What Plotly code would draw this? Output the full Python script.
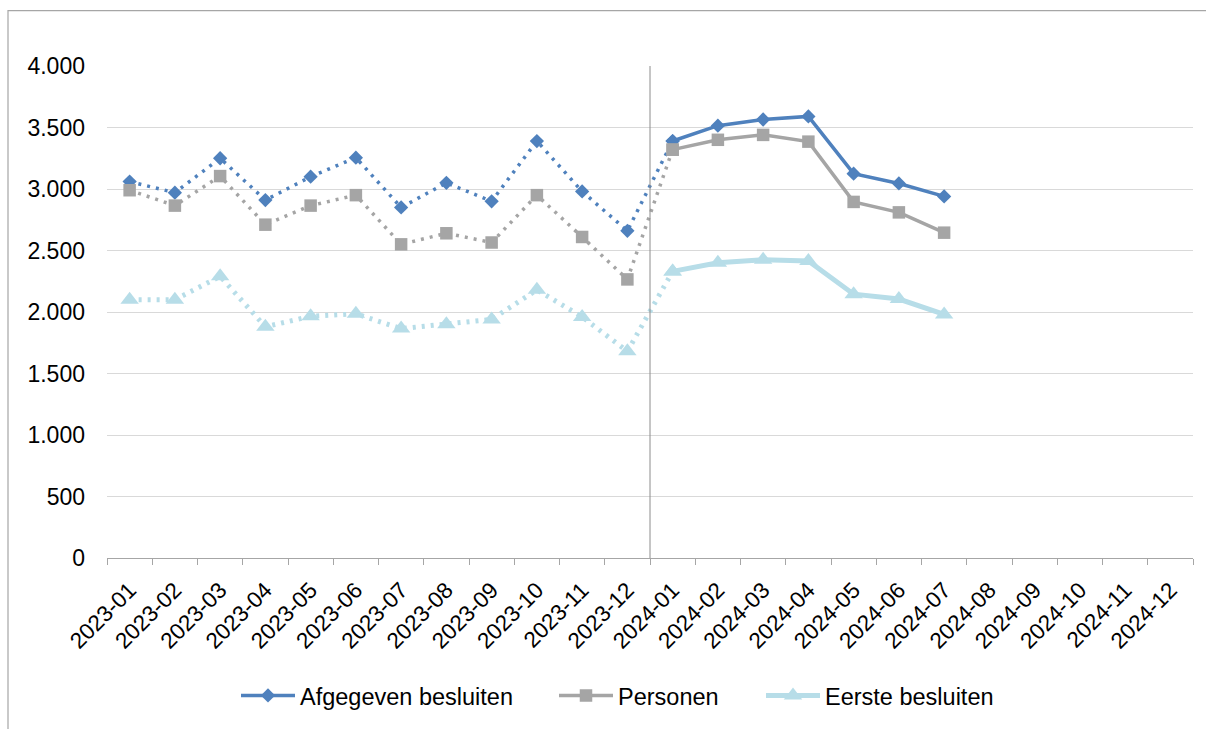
import plotly.graph_objects as go

months = [f"2023-{m:02d}" for m in range(1, 13)] + [f"2024-{m:02d}" for m in range(1, 13)]

afgegeven = [3060, 2970, 3250, 2910, 3100, 3255, 2850, 3050, 2900, 3390, 2980, 2660,
             3390, 3515, 3565, 3590, 3125, 3045, 2940]
personen = [2990, 2865, 3105, 2710, 2865, 2950, 2550, 2640, 2565, 2950, 2610, 2265,
            3320, 3400, 3440, 3385, 2895, 2810, 2645]
eerste = [2100, 2100, 2290, 1880, 1965, 1985, 1865, 1900, 1940, 2180, 1960, 1680,
          2330, 2400, 2425, 2415, 2145, 2105, 1980]

W, H = 1206, 729
ml, mr, mt, mb = 107, 13, 66, 166
pw, ph = W - ml - mr, H - mt - mb

# legend box left edges (px)
series = [
    ("Afgegeven besluiten", afgegeven, "#4f81bd", "diamond", 11, 3.5, "legend", 236),
    ("Personen", personen, "#a5a5a5", "square", 12.5, 3.5, "legend2", 554),
    ("Eerste besluiten", eerste, "#b7dde8", "triangle-up", 16, 5, "legend3", 761),
]

split = months.index("2024-01")  # first month of the solid part

fig = go.Figure()
for name, vals, color, sym, msize, lw, lg, lx in series:
    fig.add_trace(go.Scatter(
        x=months[:split + 1], y=vals[:split + 1], mode="lines+markers",
        line=dict(color=color, width=lw, dash="3px,6px"),
        marker=dict(symbol=sym, size=msize, color=color),
        showlegend=False, name=name, hoverinfo="skip"))
    fig.add_trace(go.Scatter(
        x=months[split:len(vals)], y=vals[split:], mode="lines+markers",
        line=dict(color=color, width=lw),
        marker=dict(symbol=sym, size=msize, color=color),
        name=name, legend=lg))

legend_style = dict(orientation="h", xanchor="left", yanchor="middle",
                    y=(mt + ph - 702) / ph, font=dict(size=23.5),
                    bgcolor="rgba(0,0,0,0)", itemwidth=54, borderwidth=0)
leg = {}
for name, vals, color, sym, msize, lw, lg, lx in series:
    leg[lg] = dict(legend_style, x=(lx - ml) / pw)

fig.add_shape(type="line", xref="x", yref="y", x0=split - 0.5, x1=split - 0.5,
              y0=0, y1=4000, line=dict(color="#8c8c8c", width=1))
# outer chart border
fig.add_shape(type="rect", xref="paper", yref="paper",
              x0=(8 - ml) / pw, x1=(W + 20 - ml) / pw,
              y0=-(H + 20 - mt - ph) / ph, y1=(mt + ph - 10) / ph,
              line=dict(color="#a6a6a6", width=1.2), layer="below")

fig.update_layout(
    width=W, height=H,
    margin=dict(l=ml, r=mr, t=mt, b=mb),
    paper_bgcolor="white", plot_bgcolor="white",
    separators=",.",
    font=dict(family="Liberation Sans, Arial, sans-serif", color="#000000", size=23),
    xaxis=dict(
        type="category", categoryorder="array", categoryarray=months,
        range=[-0.5, len(months) - 0.5], automargin=False,
        tickson="boundaries", ticks="outside", ticklen=6, tickcolor="#a6a6a6",
        showline=True, linecolor="#a6a6a6", linewidth=1,
        showgrid=False, tickangle=-45, tickfont=dict(size=22.5),
        ticklabelstandoff=9,
    ),
    yaxis=dict(
        range=[0, 4000], dtick=500, tickformat=",d", automargin=False,
        showgrid=True, gridcolor="#d9d9d9", gridwidth=1,
        zeroline=False, showline=False, ticks="",
        ticklabelstandoff=21, tickfont=dict(size=23),
    ),
    **leg,
)

fig.write_html("out.html", config={"displayModeBar": False},
               post_script="document.body.style.margin='0';document.body.style.overflow='hidden';")
